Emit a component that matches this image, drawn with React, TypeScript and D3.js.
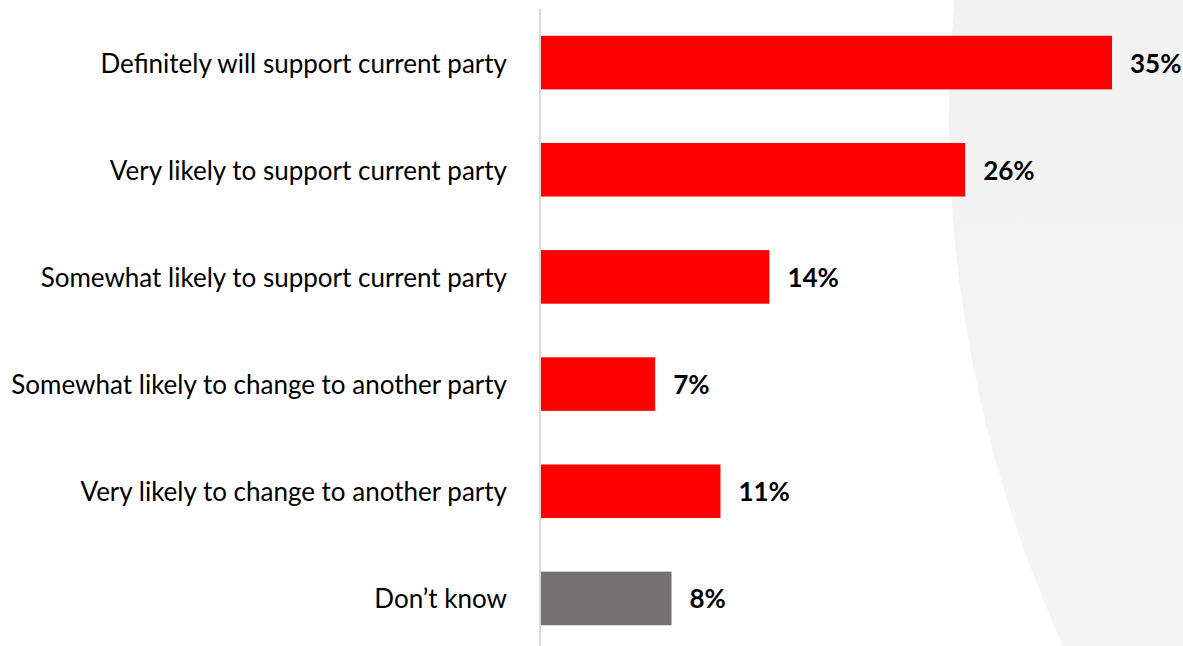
import React from "react";
import * as d3 from "d3";

const categories = [
  "Definitely will support current party",
  "Very likely to support current party",
  "Somewhat likely to support current party",
  "Somewhat likely to change to another party",
  "Very likely to change to another party",
  "Don\u2019t know",
];
const values = [35, 26, 14, 7, 11, 8];
const barColors = ["#ff0000", "#ff0000", "#ff0000", "#ff0000", "#ff0000", "#767171"];

const W = 1183;
const H = 646;

export default function App() {
  const x = d3.scaleLinear().domain([0, 35]).range([541, 1112]);
  const y = d3
    .scaleBand<string>()
    .domain(categories)
    .range([9, 652])
    .paddingInner(0.5)
    .paddingOuter(0.25);
  const font = "Lato, 'Open Sans', sans-serif";
  return (
    <svg
      width={W}
      height={H}
      style={{ position: "absolute", left: 0, top: 0, display: "block" }}
    >
      <defs>
        <linearGradient id="bgGrad" x1="0" y1="0" x2="0" y2="1">
          <stop offset="0" stopColor="#ececec" />
          <stop offset="1" stopColor="#f8f8f8" />
        </linearGradient>
      </defs>
      <rect x={0} y={0} width={W} height={H} fill="#ffffff" />
      <circle cx={2219} cy={120} r={1270} fill="url(#bgGrad)" />
      <line x1={540} x2={540} y1={9} y2={H} stroke="#d9d9d9" strokeWidth={2} />
      {categories.map((c, i) => (
        <g key={c}>
          <rect
            x={x(0)}
            y={y(c)}
            width={x(values[i]) - x(0)}
            height={y.bandwidth()}
            fill={barColors[i]}
          />
          <text
            x={507}
            y={(y(c) as number) + y.bandwidth() / 2}
            textAnchor="end"
            dominantBaseline="central"
            fontFamily={font}
            fontSize={26}
            fill="#000"
          >
            {c}
          </text>
          <text
            x={x(values[i]) + 18}
            y={(y(c) as number) + y.bandwidth() / 2}
            dominantBaseline="central"
            fontFamily={font}
            fontWeight="bold"
            fontSize={26}
            fill="#000"
          >
            {values[i] + "%"}
          </text>
        </g>
      ))}
    </svg>
  );
}
